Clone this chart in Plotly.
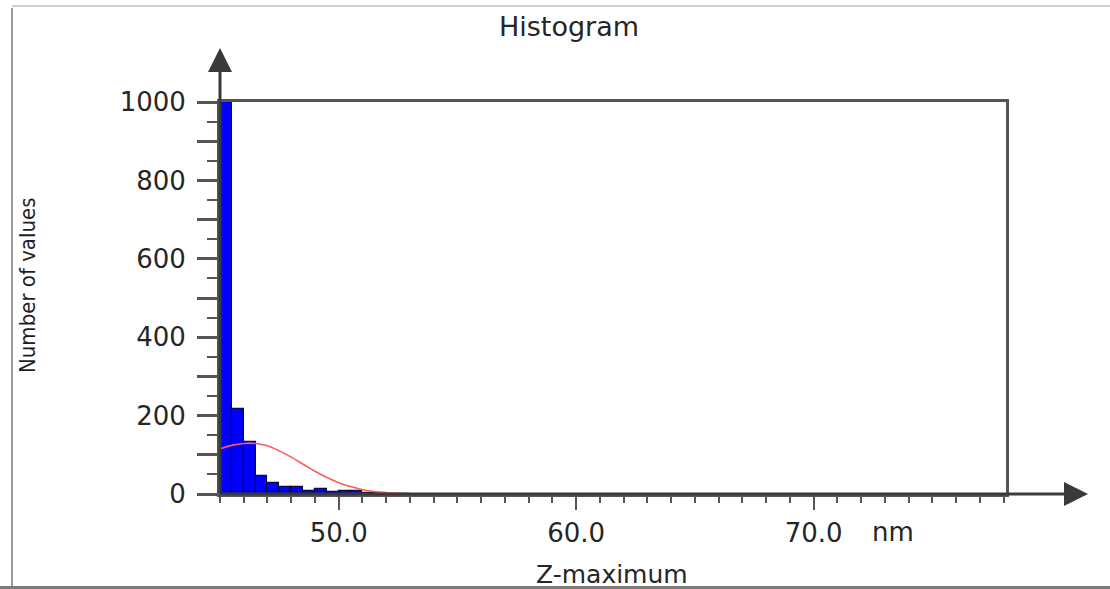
import plotly.graph_objects as go

# ---- data ----
bin_left = [45.0, 45.5, 46.0, 46.5, 47.0, 47.5, 48.0, 48.5, 49.0, 49.5,
            50.0, 50.5, 51.0, 51.5, 52.0, 52.5]
bin_count = [1000, 218, 133, 45, 27, 17, 17, 8, 14, 5,
             8, 7, 3, 3, 1, 1]
bin_width = 0.5

fit_x = [45.0, 45.5, 46.0, 46.5, 47.0, 47.5, 48.0, 48.5, 49.0, 49.5,
         50.0, 50.5, 51.0, 51.5, 52.0, 52.5, 53.0, 54.0, 55.0, 78.1]
fit_y = [115, 124, 129, 129, 123, 110, 94, 76, 58, 42,
         29, 19, 11, 6, 3, 1.5, 0.7, 0.2, 0, 0]

x_major = [50, 60, 70]
x_major_text = ["50.0", "60.0", "70.0"]
y_ticks = [0, 100, 200, 300, 400, 500, 600, 700, 800, 900, 1000]
y_tick_text = ["0", "", "200", "", "400", "", "600", "", "800", "", "1000"]

title_text = "Histogram"
x_title = "Z-maximum"
y_title = "Number of values"
x_unit = "nm"

# ---- geometry (pixels) ----
W, H = 1110, 589
L, R, T, B = 220, 104, 102, 95
pw, ph = W - L - R, H - T - B


def px(xp):
    return (xp - L) / pw


def py(yp):
    return (H - B - yp) / ph


bar_centers = [b + bin_width / 2 for b in bin_left]

fig = go.Figure()
fig.add_trace(go.Bar(
    x=bar_centers, y=bin_count, width=bin_width,
    marker=dict(color="#0000FF", line=dict(color="#0a0a40", width=1.2)),
    hoverinfo="x+y", showlegend=False,
))
fig.add_trace(go.Scatter(
    x=fit_x, y=fit_y, mode="lines", line=dict(color="#ff5a5a", width=1.6, shape="spline"),
    showlegend=False, cliponaxis=False,
))

axis_col = "#555555"
txt_col = "#262626"
tick_font = dict(family="DejaVu Sans, Verdana, sans-serif", size=26, color=txt_col)

fig.update_layout(
    width=W, height=H, autosize=False,
    margin=dict(l=L, r=R, t=T, b=B, pad=0),
    paper_bgcolor="white", plot_bgcolor="white",
    bargap=0,
    title=dict(text=title_text, x=px(569), xref="paper", xanchor="center",
               y=1 - 27 / H, yanchor="middle",
               font=dict(family="DejaVu Sans, Verdana, sans-serif", size=27, color=txt_col)),
    xaxis=dict(range=[45, 78.1], showgrid=False, zeroline=False,
               showline=True, mirror=True, linecolor=axis_col, linewidth=3,
               tickmode="array", tickvals=x_major, ticktext=x_major_text,
               ticks="outside", ticklen=13, tickwidth=2, tickcolor=axis_col,
               minor=dict(tickmode="linear", tick0=45, dtick=1, ticks="outside",
                          ticklen=6, tickwidth=2, tickcolor=axis_col),
               tickfont=tick_font, ticklabelstandoff=1, layer="below traces"),
    yaxis=dict(range=[0, 1000], showgrid=False, zeroline=False,
               showline=True, mirror=True, linecolor=axis_col, linewidth=3,
               tickmode="array", tickvals=y_ticks, ticktext=y_tick_text,
               ticks="outside", ticklen=20, tickwidth=2.5, tickcolor=axis_col,
               minor=dict(tickmode="linear", tick0=0, dtick=50, ticks="outside",
                          ticklen=10, tickwidth=2, tickcolor=axis_col),
               tickfont=tick_font, ticklabelstandoff=6, layer="below traces"),
)

# axis arrows
fig.add_annotation(xref="paper", yref="paper", x=0, y=py(48), ax=0, ay=(H - B) - 48,
                   axref="pixel", ayref="pixel", text="", showarrow=True,
                   arrowhead=2, arrowsize=1.6, arrowwidth=3, arrowcolor="#3a3a3a", standoff=0)
fig.add_annotation(xref="paper", yref="paper", x=px(1088), y=0, ax=-(1088 - L), ay=0,
                   axref="pixel", ayref="pixel", text="", showarrow=True,
                   arrowhead=2, arrowsize=1.6, arrowwidth=3, arrowcolor="#3a3a3a", standoff=0)

# unit label next to last tick
fig.add_annotation(xref="x", yref="paper", x=70, y=0, xanchor="left", yanchor="top",
                   xshift=56, yshift=-21, text=x_unit, showarrow=False, font=tick_font)

# axis titles
fig.add_annotation(xref="paper", yref="paper", x=px(612), y=py(574), xanchor="center",
                   yanchor="middle", text=x_title, showarrow=False,
                   font=dict(family="DejaVu Sans, Verdana, sans-serif", size=25, color=txt_col))
fig.add_annotation(xref="paper", yref="paper", x=px(27), y=py(285), xanchor="center",
                   yanchor="middle", text=y_title, showarrow=False, textangle=-90,
                   font=dict(family="Liberation Sans Narrow, DejaVu Sans Condensed, sans-serif",
                             size=22, color="#1e1e1e"))

# picture frame
fig.add_shape(type="line", xref="paper", yref="paper", x0=px(12), x1=px(12), y0=py(8), y1=py(589),
              line=dict(color="#9a9a9a", width=2))
fig.add_shape(type="line", xref="paper", yref="paper", x0=px(12), x1=px(1110), y0=py(6), y1=py(6),
              line=dict(color="#d0d0d0", width=2))
fig.add_shape(type="line", xref="paper", yref="paper", x0=px(0), x1=px(1110), y0=py(587.5), y1=py(587.5),
              line=dict(color="#7a7a7a", width=3))

fig.write_html("out.html", config={"displayModeBar": False},
               post_script="document.body.style.margin='0';")
